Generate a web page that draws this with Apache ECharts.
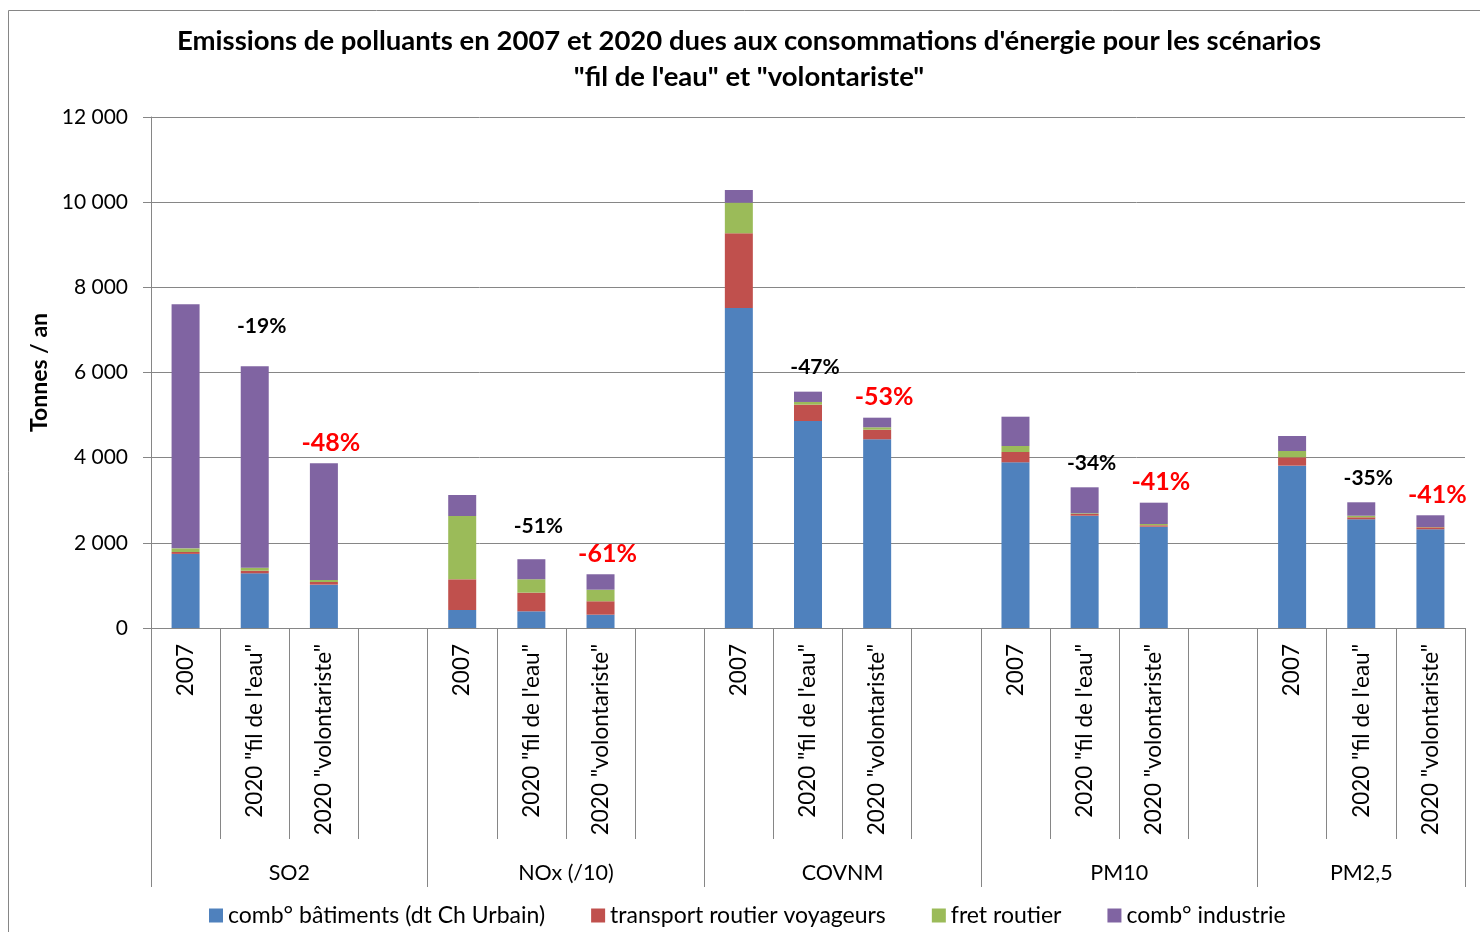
<!DOCTYPE html>
<html lang="fr">
<head>
<meta charset="utf-8">
<title>Emissions de polluants 2007 / 2020</title>
<script src="https://cdn.jsdelivr.net/npm/echarts@6/dist/echarts.min.js"></script>
<style>
  html, body { margin: 0; padding: 0; background: #fff; }
  #chart { width: 1480px; height: 932px; }
</style>
</head>
<body>
<div id="chart"></div>
<script>
// Pollutant groups and the scenarios shown inside each group
const groups = ['SO2', 'NOx (/10)', 'COVNM', 'PM10', 'PM2,5'];
const scenarios = ['2007', '2020 "fil de l\'eau"', '2020 "volontariste"'];

// Emissions (t/an), one triple per group: 2007, fil de l'eau, volontariste
const combBatiments = [[1740, 1284, 1018], [423, 392, 313], [7515, 4861, 4432], [3891, 2637, 2379], [3812, 2553, 2318]];
const transportVoyageurs = [[45, 62, 62], [720, 438, 315], [1754, 384, 225], [242, 40, 33], [197, 47, 47]];
const fretRoutier = [[85, 70, 47], [1487, 315, 272], [719, 63, 56], [141, 17, 30], [148, 37, 7]];
const combIndustrie = [[5730, 4730, 2740], [493, 470, 362], [298, 242, 226], [688, 610, 501], [352, 315, 275]];

// Change versus 2007 for each scenario
const evolFilEau = ['-19%', '-51%', '-47%', '-34%', '-35%'];
const evolVolontariste = ['-48%', '-61%', '-53%', '-41%', '-41%'];

const seriesNames = ['comb° bâtiments (dt Ch Urbain)', 'transport routier voyageurs', 'fret routier', 'comb° industrie'];
const seriesColors = ['#4F81BD', '#C0504D', '#9BBB59', '#8064A2'];

// Slots along the category axis: each group gets its scenarios plus an empty spacer (except the last group)
const slots = [];
groups.forEach((g, gi) => {
  scenarios.forEach((s, si) => slots.push({ g: gi, s: si, label: s }));
  if (gi < groups.length - 1) slots.push({ g: gi, s: -1, label: '' });
});
const categoryLabels = slots.map(d => d.label);

// Group boundaries and centres on a 0..N scale for the lower label row
const groupBounds = [0];
const groupCentres = [];
groups.forEach((g, gi) => {
  const start = groupBounds[groupBounds.length - 1];
  const size = slots.filter(d => d.g === gi).length;
  groupBounds.push(start + size);
  groupCentres.push(start + size / 2);
});

function slotValues(table) {
  return slots.map(d => (d.s < 0 ? null : table[d.g][d.s]));
}

const FONT = 'Lato, "Open Sans", sans-serif';
const lineGrey = '#868686';

// Extra lift for a few labels that sit higher above their bar
const labelLift = { 1: 16, 5: 8 };

function topSeriesData(values) {
  return values.map((v, i) => {
    const d = slots[i];
    if (d.s === 1 || d.s === 2) {
      const isFil = d.s === 1;
      return {
        value: v,
        label: {
          show: true,
          position: 'top',
          distance: (isFil ? 14 : 8) + (isFil ? (labelLift[i] || 0) : 0),
          offset: [7, 0],
          formatter: isFil ? evolFilEau[d.g] : evolVolontariste[d.g],
          color: isFil ? '#000' : '#FF0000',
          fontSize: isFil ? 21 : 25,
          fontWeight: 'bold',
          fontFamily: FONT
        }
      };
    }
    return v;
  });
}

const tables = [combBatiments, transportVoyageurs, fretRoutier, combIndustrie];
const series = tables.map((t, k) => {
  const vals = slotValues(t);
  return {
    name: seriesNames[k],
    type: 'bar',
    stack: 'total',
    barWidth: 28,
    itemStyle: { color: seriesColors[k] },
    data: k === tables.length - 1 ? topSeriesData(vals) : vals
  };
});

const chart = echarts.init(document.getElementById('chart'), null, { renderer: 'canvas' });
chart.setOption({
  backgroundColor: '#fff',
  animation: false,
  textStyle: { fontFamily: FONT },
  title: {
    text: 'Emissions de polluants en 2007 et 2020 dues aux consommations d\'énergie pour les scénarios\n"fil de l\'eau" et "volontariste"',
    left: 744,
    top: 18,
    textAlign: 'center',
    textStyle: { fontSize: 27.5, fontWeight: 'bold', color: '#000', lineHeight: 36, fontFamily: FONT }
  },
  legend: {
    data: seriesNames,
    left: 204,
    top: 899,
    icon: 'rect',
    itemWidth: 14,
    itemHeight: 14,
    itemGap: 46,
    textStyle: { fontSize: 23, color: '#000', fontFamily: FONT }
  },
  grid: { left: 151, right: 15, top: 117, bottom: 304 },
  xAxis: [
    {
      type: 'category',
      data: categoryLabels,
      axisLine: { lineStyle: { color: lineGrey } },
      axisTick: { show: true, interval: 0, length: 211, alignWithLabel: false, lineStyle: { color: lineGrey } },
      axisLabel: { interval: 0, rotate: 90, margin: 16, fontSize: 22.5, color: '#000', fontFamily: FONT },
      splitLine: { show: false }
    },
    {
      type: 'value',
      min: 0,
      max: groupBounds[groupBounds.length - 1],
      position: 'bottom',
      offset: 211,
      axisLine: { show: false },
      axisTick: { show: true, customValues: groupBounds, length: 48, lineStyle: { color: lineGrey } },
      axisLabel: {
        customValues: groupCentres,
        margin: 23,
        fontSize: 21.5,
        color: '#000',
        fontFamily: FONT,
        formatter: v => groups[groupCentres.indexOf(v)] || ''
      },
      splitLine: { show: false }
    }
  ],
  yAxis: {
    type: 'value',
    min: 0,
    max: 12000,
    interval: 2000,
    name: 'Tonnes / an',
    nameLocation: 'middle',
    nameGap: 97,
    nameTextStyle: { fontSize: 23, fontWeight: 'bold', color: '#000', fontFamily: FONT },
    axisLine: { show: true, lineStyle: { color: lineGrey } },
    axisTick: { show: true, length: 8, lineStyle: { color: lineGrey } },
    axisLabel: {
      margin: 23,
      fontSize: 21,
      color: '#000',
      fontFamily: FONT,
      formatter: v => String(v).replace(/\B(?=(\d{3})+(?!\d))/g, ' ')
    },
    splitLine: { lineStyle: { color: lineGrey, width: 1 } }
  },
  graphic: [
    {
      type: 'rect',
      shape: { x: 8.5, y: 10.5, width: 1500, height: 940 },
      style: { fill: 'none', stroke: lineGrey, lineWidth: 1 },
      silent: true
    }
  ],
  series: series
});
</script>
</body>
</html>
